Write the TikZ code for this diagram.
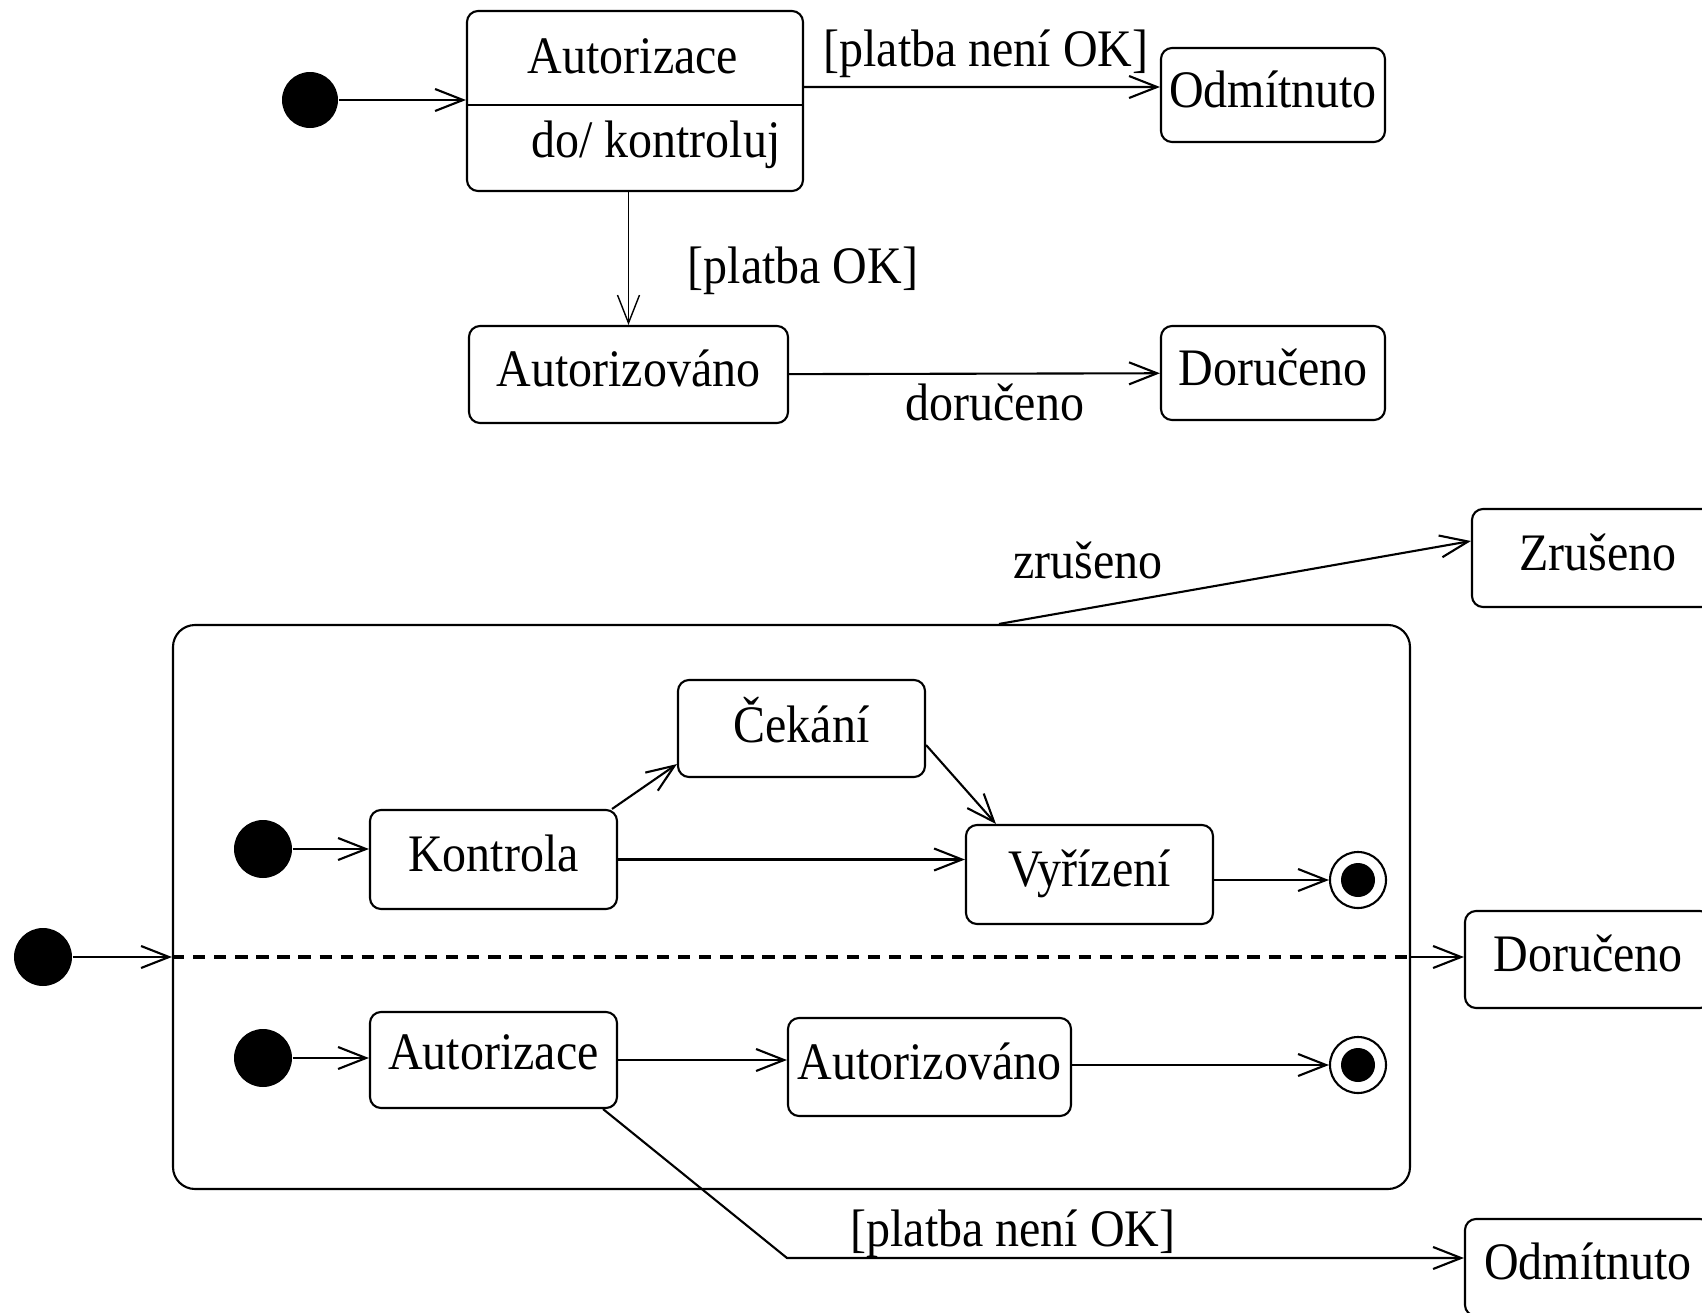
\documentclass[tikz,border=0pt]{standalone}
\usepackage{fontspec}
\setmainfont{Liberation Serif}[FakeStretch=0.91]
\usepackage{tikz}
\usetikzlibrary{arrows.meta}
\tikzset{every edge/.style={draw, line width=0.6pt, -{Straight Barb[length=2.8mm,width=2.2mm]}}}
\tikzset{
  state/.style={draw, rounded corners=1.1mm, line width=0.6pt, minimum width=2.47cm,
    minimum height=0.97cm, inner sep=0pt, text depth=1.2mm, font=\fontsize{15}{18}\selectfont},
  init/.style={circle, fill=black, minimum size=5.6mm, inner sep=0pt},
  fin/.style={circle, draw, line width=0.6pt, minimum size=5.6mm, inner sep=0pt,
    path picture={\fill (path picture bounding box.center) circle (1.7mm);}},
  lbl/.style={font=\fontsize{15}{18}\selectfont, inner sep=0pt}
}

\begin{document}
\begin{tikzpicture}[scale=1]
    \useasboundingbox (0, 0) rectangle (17.02, -13.13);
    \clip (0, 0) rectangle (17.02, -13.13);

    % nahore
    \node[init] at (3.10, -1.00) (i0) {};
    \node[state, minimum width=3.36cm, minimum height=1.80cm] at (6.35, -1.01) (autz) {};
    \node[lbl] at (6.33, -0.56) (autzT) {Autorizace};
    \node[lbl] at (6.56, -1.45) (autzD) {do/ kontroluj};
    \draw[line width=0.6pt] ([yshift=-0.4mm]autz.west) -- ([yshift=-0.4mm]autz.east);
    \node[state, minimum width=2.24cm, minimum height=0.94cm] at (12.73, -0.95) (odm) {Odmítnuto};
    \node[state, minimum width=3.19cm] at (6.285, -3.745) (azv) {Autorizováno};
    \node[state, minimum width=2.24cm, minimum height=0.94cm] at (12.73, -3.73) (dor) {Doručeno};

    \draw (i0) edge (autz.west |- i0);
    \draw ([yshift=1.4mm]autz.east) edge ([yshift=0.8mm]odm.west);
    \draw (autz.south -| azv.north) edge[line width=0.4pt] (azv.north);
    \draw (azv) edge (dor);

    \node[lbl] at (9.86, -0.54) (gNe) {[platba není OK]};
    \node[lbl] at (8.03, -2.71) (gOk) {[platba OK]};
    \node[lbl] at (9.95, -4.02) (eDor) {doručeno};

    % dole
    \node[state, minimum width=12.37cm, minimum height=5.64cm, rounded corners=2.2mm] at (7.915, -9.07) (comp) {};
    \node[init, minimum size=5.8mm] at (0.43, -9.57) (iO) {};
    \node[state, minimum width=2.52cm, minimum height=0.98cm] at (15.98, -5.58) (zru) {Zrušeno};
    \node[state, minimum width=2.46cm] at (15.88, -9.595) (dorB) {Doručeno};
    \node[state, minimum width=2.46cm] at (15.88, -12.675) (odmB) {Odmítnuto};
    \node[state, text depth=1.8mm] at (8.015, -7.285) (cek) {Čekání};
    \node[state, minimum height=0.99cm] at (4.935, -8.595) (kon) {Kontrola};
    \node[state, minimum height=0.99cm] at (10.895, -8.745) (vyr) {Vyřízení};
    \node[init, minimum size=5.8mm] at (2.63, -8.49) (i1) {};
    \node[fin] at (13.58, -8.80) (f1) {};
    \node[init, minimum size=5.8mm] at (2.63, -10.58) (i2) {};
    \node[state, minimum height=0.96cm, text depth=1.6mm] at (4.935, -10.60) (autB) {Autorizace};
    \node[state, minimum width=2.83cm, minimum height=0.98cm] at (9.295, -10.67) (azvB) {Autorizováno};
    \node[fin] at (13.58, -10.65) (f2) {};
    \coordinate (ohyb) at (7.87, -12.58);

    \draw (iO) edge (iO -| comp.west);
    \draw[dash pattern=on 3.5pt off 2.5pt, line width=1.1pt] (iO -| comp.west) -- (iO -| comp.east);
    \draw (iO -| comp.east) edge (iO -| dorB.west);
    \draw ([xshift=20.75mm]comp.north) edge ([yshift=1.7mm]zru.west);
    \draw (i1) edge (i1 -| kon.west);
    \draw ([xshift=-0.6mm]kon.north east) edge ([yshift=1.4mm]cek.south west);
    \draw ([yshift=-1.65mm]cek.east) edge ([xshift=3.1mm]vyr.north west);
    \draw (kon.east) edge (kon.east -| vyr.west);
    \draw (vyr.east |- f1) edge (f1);
    \draw (i2) edge (i2 -| autB.west);
    \draw (autB.east) edge (autB.east -| azvB.west);
    \draw (azvB.east |- f2) edge (f2);
    \draw[line width=0.6pt, -{Straight Barb[length=2.8mm,width=2.2mm]}] ([xshift=-1.5mm]autB.south east) -- (ohyb) -- (ohyb -| odmB.west);

    \node[lbl] at (10.88, -5.60) (eZru) {zrušeno};
    \node[lbl] at (10.13, -12.34) (gNe2) {[platba není OK]};
\end{tikzpicture}
\end{document}
